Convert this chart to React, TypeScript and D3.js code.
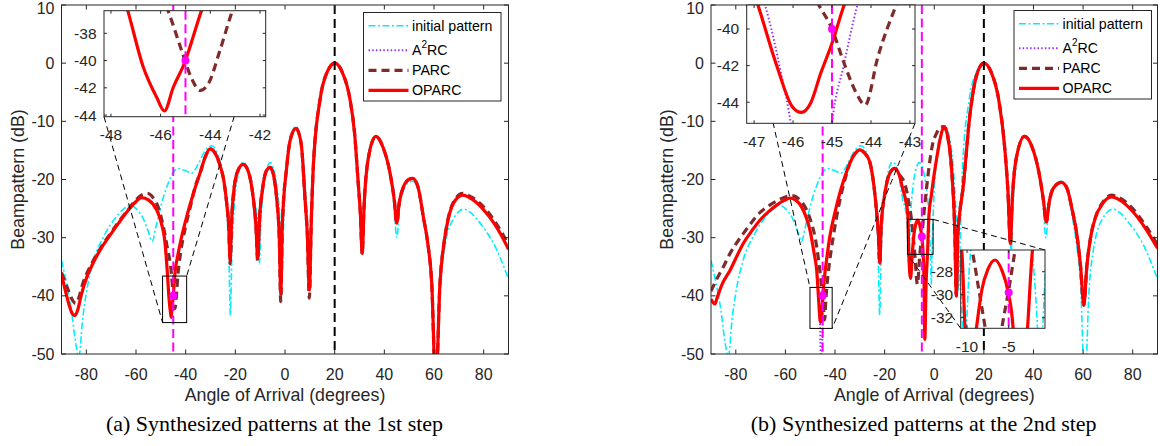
import React from 'react';
import * as d3 from 'd3';

type Pt = [number, number];

// ---------------- data ----------------
const angleTicks = [-80, -60, -40, -20, 0, 20, 40, 60, 80];
const dbTicks = [-50, -40, -30, -20, -10, 0, 10];
const seriesNames = ['initial pattern', 'A2RC', 'PARC', 'OPARC'];
const captionA = '(a) Synthesized patterns at the 1st step';
const captionB = '(b) Synthesized patterns at the 2nd step';
const xLabel = 'Angle of Arrival (degrees)';
const yLabel = 'Beampattern (dB)';
const mainBeam = 20;
const nullsA: Pt[] = [[-45, -40]];
const nullsB: Pt[] = [[-45, -40], [-5, -29.8]];

const initialPattern: Pt[] = [
  [-90, -33.9], [-88, -37.8], [-86, -42.5], [-84.5, -47.5], [-83, -50.5], [-81.5, -44], [-80, -39.5], [-77, -33.8],
  [-73, -29.8], [-69, -27], [-65, -25.1], [-62.4, -24.4], [-60, -25], [-57, -26.8], [-55, -29], [-53.5, -30.7],
  [-52, -28.2], [-50, -24.6], [-47, -20.6], [-45, -18.8], [-43, -18.1], [-40, -18.5], [-37.6, -18.9], [-35, -17.4],
  [-32.5, -15.3], [-29.5, -14.2], [-27, -15.8], [-25, -19.5], [-23.5, -25.5], [-22.6, -33], [-22, -43.3], [-21.4, -33],
  [-20.5, -25], [-19, -19.5], [-16.8, -17], [-14.5, -18.8], [-12.7, -23.5], [-11.5, -25.5], [-10.9, -28], [-10.3, -34.5],
  [-9.7, -27.5], [-8.5, -21], [-7.2, -18], [-6, -17.1], [-4.5, -18.3], [-3.2, -21.5], [-2.2, -26], [-1.6, -32],
  [-1.2, -38], [-0.8, -31], [-0.3, -24.5], [0.7, -17.5], [2, -13], [4.4, -10.9], [6.5, -13.5], [8, -20], [9, -28],
  [9.8, -39], [10.6, -28], [11.4, -18], [14, -6.5], [17, -1.5], [20, 0], [23, -1.5], [26.2, -6.3], [28, -11.5],
  [29.5, -19.5], [30.3, -25], [31, -32.5], [31.7, -25], [33, -17.5], [35, -13.3], [36.6, -12.5], [39, -14], [42, -18.8],
  [43.8, -24], [45, -30], [46.2, -24.5], [47.8, -21.8], [49.5, -20.6], [51.4, -20.3], [53.5, -21.5], [55.7, -26.5],
  [57.5, -31.5], [59, -38], [60.7, -56], [62.4, -39], [64, -32.5], [65.6, -29], [67.8, -26.8], [70, -25.5], [72, -25.1],
  [75, -25.8], [78, -27.2], [81, -28.9], [84, -31], [87, -33.8], [90, -37.1],
];

const oparc1: Pt[] = [
  [-90, -36.3], [-88.5, -39], [-87, -41.5], [-85.6, -43.1], [-84.6, -43.4], [-83.6, -42.6], [-82, -39.8], [-80, -37],
  [-77.2, -34.3], [-74, -31.8], [-70.5, -29.6], [-67, -27.5], [-63.7, -25.6], [-60.5, -24], [-57.7, -23.1], [-55, -23.5],
  [-51.7, -25.2], [-50, -27.2], [-48.3, -31], [-47.33, -36.3], [-46.7, -40.47], [-46.16, -42.7], [-45.85, -43.7],
  [-45.49, -41.96], [-45, -40], [-44.69, -38.25], [-44.35, -36.3], [-43, -32.7], [-41.6, -29.8], [-39.6, -26.4],
  [-36.9, -22.4], [-34.2, -18.9], [-32, -16], [-30.2, -14.75], [-28, -15.6], [-26, -17.8], [-24.8, -19.8], [-23.5, -24],
  [-22.6, -28.5], [-22.1, -34], [-21.5, -27], [-20.5, -21.5], [-19, -18.5], [-16.8, -17.4], [-14.5, -19], [-12.7, -23.5],
  [-11.7, -28], [-11, -33.6], [-10.3, -27], [-9, -21.5], [-7.5, -18.5], [-6, -17.9], [-4.5, -19.5], [-3.2, -24],
  [-2.3, -30], [-1.7, -39.6], [-1.1, -28], [0.7, -17.8], [2, -13.4], [4.4, -11.2], [6.5, -13.8], [8.1, -23.6], [9, -29.5],
  [9.8, -39], [10.6, -27], [11.4, -17.8], [14.1, -6.3], [17, -1.5], [20.1, 0], [23, -1.5], [26.2, -6.3], [28, -12],
  [29.5, -20.7], [30.3, -25.5], [31.1, -32.7], [31.8, -25], [33.5, -16.5], [36.6, -12.6], [39.5, -14.5], [42.3, -18.9],
  [44, -23.5], [45, -27.5], [46, -24], [47.5, -21.5], [49.5, -20.1], [51.4, -19.8], [53.5, -21.2], [55.7, -26.4],
  [57.5, -31], [59.1, -37.9], [60.7, -56], [62.4, -37.9], [64, -31], [65.1, -28.1], [67.8, -24.1], [71.6, -22.7],
  [75, -23.3], [78, -24.3], [81, -25.7], [84, -27.4], [87, -29.5], [90, -32],
];

const parc1: Pt[] = [
  [-90, -36], [-87, -39.3], [-85.5, -40.8], [-84.3, -41.3], [-83, -40.3], [-81.5, -38], [-78, -34.6], [-74, -31.6],
  [-70.5, -29.4], [-67, -27.3], [-63, -25.1], [-60, -23.5], [-57.5, -22.6], [-55.4, -22.4], [-53, -23.2], [-51, -24.8],
  [-49.3, -27.5], [-47.5, -31.5], [-45.69, -36.4], [-45.16, -39.24], [-44.75, -41.33], [-44.42, -42.2], [-44.08, -41.7],
  [-43.61, -39.24], [-43.12, -36.4], [-42, -32.5], [-40, -28], [-38, -24.5], [-36, -21], [-34.2, -18.9], [-32, -16],
  [-30.2, -14.75], [-28, -15.6], [-26, -17.8], [-24.8, -19.8], [-23.5, -24], [-22.6, -28.5], [-22.1, -34.5], [-21.5, -27],
  [-20.5, -21.5], [-19, -18.5], [-16.8, -17.4], [-14.5, -19], [-12.7, -23.5], [-11.7, -28], [-11, -34], [-10.3, -27],
  [-9, -21.5], [-7.5, -18.5], [-6, -17.9], [-4.5, -19.5], [-3.2, -24], [-2.3, -30], [-1.7, -41], [-1.1, -28], [0.7, -17.8],
  [2, -13.4], [4.4, -11.2], [6.5, -13.8], [8.1, -23.6], [9, -29.5], [9.8, -40.4], [10.6, -27], [11.4, -17.8], [14.1, -6.3],
  [17, -1.5], [20.1, 0], [23, -1.5], [26.2, -6.3], [28, -12], [29.5, -20.7], [30.3, -25.5], [31.1, -32.7], [31.8, -25],
  [33.5, -16.5], [36.6, -12.6], [39.5, -14.5], [42.3, -18.9], [44, -23.5], [45, -27.5], [46, -24], [47.5, -21.5],
  [49.5, -20.1], [51.4, -19.8], [53.5, -21.2], [55.7, -26.4], [57.5, -31], [59.1, -37.9], [60.7, -56], [62.4, -37.9],
  [64, -31], [65.1, -28], [67.8, -23.9], [71.6, -22.4], [75, -23], [78, -23.9], [81, -25.2], [84, -26.9], [87, -28.9],
  [90, -31.3],
];

const a2rc1: Pt[] = oparc1;

const oparc2: Pt[] = [
  [-90, -40.6], [-89.2, -41.1], [-88.4, -41.4], [-87.5, -40.3], [-85.5, -38], [-82.3, -35.6], [-79.5, -33.1], [-77, -31],
  [-73.5, -28.8], [-70.3, -27], [-67, -25.6], [-63.5, -24.4], [-60.5, -23.6], [-58.2, -23.2], [-56, -23.5], [-53.5, -24.7],
  [-51.8, -26.3], [-50.1, -28.7], [-48.5, -32.5], [-47.4, -35.6], [-46.9, -38.7], [-46.41, -42.06], [-46.02, -44.24],
  [-45.79, -44.55], [-45.55, -44.05], [-45.29, -42.42], [-45, -40.78], [-44.69, -38.7], [-44, -35.8], [-43, -32.5],
  [-42.1, -29.8], [-40, -25.6], [-38.1, -22.4], [-36, -19.5], [-34, -17.2], [-32, -15.6], [-30, -14.9], [-28, -15.5],
  [-26, -17], [-24.5, -20.5], [-23.3, -25.3], [-22.5, -29.5], [-21.95, -34.4], [-21.4, -28], [-19.9, -22.4], [-18, -19],
  [-15.9, -18.1], [-14, -19.4], [-12.6, -21.8], [-11.5, -23.6], [-10.64, -26.1], [-10.24, -32.9], [-9.55, -37],
  [-8.87, -32.9], [-8.2, -29.5], [-7.5, -27.8], [-6.63, -26.98], [-5.8, -27.9], [-5.07, -29.75], [-4.47, -32.9],
  [-4.1, -38], [-3.8, -47.5], [-3.3, -38], [-2.74, -32.9], [-2.14, -26.1], [-1.2, -22.8], [0, -19], [1, -16.3],
  [2.5, -12.8], [3.9, -10.9], [5.5, -12.8], [6.9, -17.8], [8.3, -29.3], [8.9, -40], [9.5, -29.5], [10.2, -26],
  [11.6, -21.5], [14.3, -9.2], [17, -2.2], [20, 0], [23, -1.6], [26, -6.3], [28.5, -15], [29.7, -22], [30.7, -31],
  [31.4, -24], [33, -16.5], [36.4, -12.6], [39.5, -14.5], [42.3, -19], [44, -23.5], [45.2, -27.3], [46.3, -24],
  [48, -21.5], [51.2, -20.5], [53.5, -21.5], [55.5, -25], [57.5, -29.5], [59, -35], [60.3, -41.6], [61.5, -35],
  [63, -30], [65, -26.5], [67.8, -24.2], [71.4, -23], [75, -23.6], [80, -25.5], [85, -28.3], [90, -31.8],
];

const parc2: Pt[] = [
  [-90, -39.2], [-88, -37.4], [-85, -35], [-82.3, -32.7], [-79.5, -30.8], [-77, -29.3], [-73.5, -27.3], [-70.3, -25.7],
  [-67, -24.6], [-63.5, -23.7], [-60, -23], [-56.9, -22.8], [-54, -23.6], [-51.5, -25.2], [-49.5, -27.5], [-48.1, -29.8],
  [-46.5, -34.3], [-45.34, -38.69], [-45, -40], [-44.69, -41.87], [-44.4, -43.4], [-44.15, -44.15], [-43.82, -41.5],
  [-43.35, -38.69], [-42.5, -35.2], [-40.7, -29.8], [-38.5, -24.5], [-36, -20], [-34, -17.2], [-32, -15.6], [-30, -14.9],
  [-28, -15.5], [-26, -17], [-24.5, -20.5], [-23.3, -25.3], [-22.5, -29.5], [-21.95, -34.4], [-21.4, -28], [-19.9, -22.4],
  [-18, -19], [-15.9, -18.1], [-14, -19.2], [-12, -20.6], [-10.9, -22.4], [-9.9, -25], [-9.42, -26.1], [-8.6, -29.5],
  [-7.82, -32.9], [-6.8, -38], [-5.82, -32.9], [-5, -29.6], [-4.22, -26.1], [-3.1, -21.5], [-2, -17.5], [-0.7, -14],
  [1, -12], [2.5, -11], [3.9, -10.9], [5.5, -12.8], [6.9, -17.8], [8.3, -29.3], [8.9, -40], [9.5, -29.5], [10.2, -26],
  [11.6, -21.5], [14.3, -9.2], [17, -2.2], [20, 0], [23, -1.6], [26, -6.3], [28.5, -15], [29.7, -22], [30.7, -31],
  [31.4, -24], [33, -16.5], [36.4, -12.6], [39.5, -14.5], [42.3, -19], [44, -23.5], [45.2, -27.3], [46.3, -24],
  [48, -21.5], [51.2, -20.5], [53.5, -21.5], [55.5, -25], [57.5, -29.5], [59, -35], [60.3, -41.6], [61.5, -35],
  [63, -30], [65, -26.5], [67.8, -24], [71.4, -22.7], [75, -23.2], [80, -25], [85, -27.8], [90, -31.2],
];

// A2RC at step 2 coincides with OPARC except around its deep null near -45.5 deg
const a2rc2Null: Pt[] = [
  [-48.5, -32.5], [-47.4, -35.7], [-46.72, -38.69], [-46.3, -42.5], [-46.06, -45.15], [-45.8, -50], [-45.5, -58],
  [-45.2, -50], [-45, -45.15], [-44.7, -42], [-44.35, -38.69], [-43.2, -33.5], [-42.1, -29.8],
];
const a2rc2: Pt[] = [
  ...oparc2.filter((d) => d[0] < -48.5 || d[0] > -42.1),
  ...a2rc2Null,
].sort((a, b) => a[0] - b[0]);

// ---------------- styling ----------------
const FONT = '"Liberation Sans", Arial, Helvetica, sans-serif';
const SERIF = '"Liberation Serif", "Times New Roman", serif';
const AX = '#262626';
const TOP = 5;
const BOTTOM = 354;

const styles = [
  { stroke: '#00eeff', w: 1.6, dash: '7,2.5,2,2.5' },
  { stroke: '#9933ff', w: 2, dash: '1.5,2.2' },
  { stroke: '#7f2b2b', w: 3.2, dash: '8,5' },
  { stroke: '#ff0000', w: 3.2, dash: undefined as string | undefined },
];

interface InsetCfg {
  id: string;
  box: [number, number, number, number];
  xd: [number, number];
  yd: [number, number];
  xt: number[];
  yt: number[];
  rect: [number, number, number, number]; // x0,x1,yLow,yHigh (data)
  links: [string, string][];
}

function corner(b: [number, number, number, number], c: string): [number, number] {
  const [x0, y0, x1, y1] = b;
  return [c[1] === 'l' ? x0 : x1, c[0] === 't' ? y0 : y1];
}

function Inset({ cfg, series, nulls }: { cfg: InsetCfg; series: Pt[][]; nulls: Pt[] }) {
  const [bx0, by0, bx1, by1] = cfg.box;
  const xs = d3.scaleLinear().domain(cfg.xd).range([bx0, bx1]);
  const ys = d3.scaleLinear().domain(cfg.yd).range([by1, by0]);
  const line = d3.line<Pt>().x((d) => xs(d[0])).y((d) => ys(d[1])).curve(d3.curveMonotoneX);
  const inNulls = nulls.filter((n) => n[0] > cfg.xd[0] && n[0] < cfg.xd[1]);
  return (
    <g>
      <defs>
        <clipPath id={cfg.id}>
          <rect x={bx0} y={by0} width={bx1 - bx0} height={by1 - by0} />
        </clipPath>
      </defs>
      <rect x={bx0} y={by0} width={bx1 - bx0} height={by1 - by0} fill="white" />
      <g clipPath={`url(#${cfg.id})`}>
        {series.map((s, i) => (
          <path key={i} d={line(s) || ''} fill="none" stroke={styles[i].stroke} strokeWidth={styles[i].w}
            strokeDasharray={styles[i].dash} strokeLinejoin="round" />
        ))}
        {inNulls.map((n, i) => (
          <line key={'m' + i} x1={xs(n[0])} x2={xs(n[0])} y1={by0} y2={by1} stroke="#ff00ff" strokeWidth={2}
            strokeDasharray="9,4.5" />
        ))}
        {inNulls.map((n, i) => (
          <circle key={'c' + i} cx={xs(n[0])} cy={ys(n[1])} r={4} fill="#ff00ff" />
        ))}
      </g>
      <rect x={bx0} y={by0} width={bx1 - bx0} height={by1 - by0} fill="none" stroke={AX} strokeWidth={1} />
      {cfg.xt.map((t) => (
        <g key={'xt' + t}>
          <line x1={xs(t)} x2={xs(t)} y1={by1} y2={by1 - 3} stroke={AX} />
          <line x1={xs(t)} x2={xs(t)} y1={by0} y2={by0 + 3} stroke={AX} />
          <text x={xs(t)} y={by1 + 23.5} textAnchor="middle" fontSize={15.5} fontFamily={FONT} fill={AX}>{t}</text>
        </g>
      ))}
      {cfg.yt.map((t) => (
        <g key={'yt' + t}>
          <line x1={bx0} x2={bx0 + 3} y1={ys(t)} y2={ys(t)} stroke={AX} />
          <line x1={bx1} x2={bx1 - 3} y1={ys(t)} y2={ys(t)} stroke={AX} />
          <text x={bx0 - 7.5} y={ys(t)} textAnchor="end" dominantBaseline="central" fontSize={15.5} fontFamily={FONT}
            fill={AX}>{t}</text>
        </g>
      ))}
    </g>
  );
}

interface PanelProps {
  id: string;
  left: number;
  right: number;
  series: Pt[][];
  nulls: Pt[];
  insets: InsetCfg[];
  legendLeft: number;
  legendTop: number;
  caption: string;
  captionX: number;
}

function Panel(p: PanelProps) {
  const x = d3.scaleLinear().domain([-90, 90]).range([p.left, p.right]);
  const y = d3.scaleLinear().domain([-50, 10]).range([BOTTOM, TOP]);
  const line = d3.line<Pt>().x((d) => x(d[0])).y((d) => y(d[1])).curve(d3.curveMonotoneX);
  const cx = (p.left + p.right) / 2;
  const legW = 137.5;
  const rowY = [13.2, 37.8, 57.8, 77.8];
  return (
    <g>
      <defs>
        <clipPath id={p.id + 'clip'}>
          <rect x={p.left} y={TOP} width={p.right - p.left} height={BOTTOM - TOP} />
        </clipPath>
      </defs>
      <rect x={p.left} y={TOP} width={p.right - p.left} height={BOTTOM - TOP} fill="white" />
      <g clipPath={`url(#${p.id}clip)`}>
        {p.series.map((s, i) => (
          <path key={i} d={line(s) || ''} fill="none" stroke={styles[i].stroke} strokeWidth={styles[i].w}
            strokeDasharray={styles[i].dash} strokeLinejoin="round" />
        ))}
        <line x1={x(mainBeam)} x2={x(mainBeam)} y1={TOP} y2={BOTTOM} stroke="#000" strokeWidth={2}
          strokeDasharray="9,5" />
        {p.nulls.map((n, i) => (
          <line key={'m' + i} x1={x(n[0])} x2={x(n[0])} y1={TOP} y2={BOTTOM} stroke="#ff00ff" strokeWidth={2}
            strokeDasharray="9,4.5" />
        ))}
        {p.nulls.map((n, i) => (
          <circle key={'c' + i} cx={x(n[0])} cy={y(n[1])} r={4} fill="#ff00ff" />
        ))}
      </g>
      {/* zoom rectangles and connector lines */}
      {p.insets.map((ins) => {
        const [rx0, rx1, ryl, ryh] = ins.rect;
        const rb: [number, number, number, number] = [x(rx0), y(ryh), x(rx1), y(ryl)];
        return (
          <g key={'r' + ins.id}>
            <rect x={rb[0]} y={rb[1]} width={rb[2] - rb[0]} height={rb[3] - rb[1]} fill="none" stroke="#000"
              strokeWidth={1} />
            {ins.links.map(([a, b], k) => {
              const [ax, ay] = corner(ins.box, a);
              const [bx, by] = corner(rb, b);
              return <line key={k} x1={ax} y1={ay} x2={bx} y2={by} stroke="#000" strokeWidth={1}
                strokeDasharray="6,4" />;
            })}
          </g>
        );
      })}
      {/* axes box */}
      <rect x={p.left} y={TOP} width={p.right - p.left} height={BOTTOM - TOP} fill="none" stroke={AX} strokeWidth={1} />
      {angleTicks.map((t) => (
        <g key={'x' + t}>
          <line x1={x(t)} x2={x(t)} y1={BOTTOM} y2={BOTTOM - 4.5} stroke={AX} />
          <line x1={x(t)} x2={x(t)} y1={TOP} y2={TOP + 4.5} stroke={AX} />
          <text x={x(t)} y={380} textAnchor="middle" fontSize={16} fontFamily={FONT} fill={AX}>{t}</text>
        </g>
      ))}
      {dbTicks.map((t) => (
        <g key={'y' + t}>
          <line x1={p.left} x2={p.left + 4.5} y1={y(t)} y2={y(t)} stroke={AX} />
          <line x1={p.right} x2={p.right - 4.5} y1={y(t)} y2={y(t)} stroke={AX} />
          <text x={p.left - 7} y={Math.max(y(t), 8.5)} textAnchor="end" dominantBaseline="central" fontSize={16}
            fontFamily={FONT} fill={AX}>{t}</text>
        </g>
      ))}
      {/* insets */}
      {p.insets.map((ins) => (
        <Inset key={ins.id} cfg={ins} series={p.series} nulls={p.nulls} />
      ))}
      {/* legend */}
      <g transform={`translate(${p.legendLeft},${p.legendTop})`}>
        <rect x={0} y={0} width={legW} height={88.5} fill="white" stroke={AX} strokeWidth={1} />
        {seriesNames.map((name, i) => (
          <g key={name}>
            <line x1={5} x2={45} y1={rowY[i]} y2={rowY[i]} stroke={styles[i].stroke} strokeWidth={styles[i].w}
              strokeDasharray={styles[i].dash} />
            <text x={48.5} y={rowY[i]} dominantBaseline="central" fontSize={14.2} fontFamily={FONT} fill="#000">
              {name === 'A2RC' ? (
                <>
                  A<tspan fontSize={10} dy={-6}>2</tspan><tspan dy={6}>RC</tspan>
                </>
              ) : name}
            </text>
          </g>
        ))}
      </g>
      {/* labels */}
      <text x={cx} y={401} textAnchor="middle" fontSize={17.8} fontFamily={FONT} fill={AX}>{xLabel}</text>
      <text transform={`translate(${p.left - 38},${(TOP + BOTTOM) / 2}) rotate(-90)`} textAnchor="middle"
        fontSize={17.8} fontFamily={FONT} fill={AX}>{yLabel}</text>
      <text x={p.captionX} y={431} textAnchor="middle" fontSize={22} fontFamily={SERIF} fill="#000">{p.caption}</text>
    </g>
  );
}

const insetsA: InsetCfg[] = [
  {
    id: 'insA',
    box: [104, 10.7, 265.7, 116.7],
    xd: [-48.28, -41.77],
    yd: [-44.12, -36.34],
    xt: [-48, -46, -44, -42],
    yt: [-44, -42, -40, -38],
    rect: [-49.3, -39.6, -44.6, -36.6],
    links: [['bl', 'bl'], ['tr', 'tr']],
  },
];

const insetsB: InsetCfg[] = [
  {
    id: 'insB1',
    box: [746.7, 5, 915, 123.3],
    xd: [-47.19, -42.87],
    yd: [-45.15, -38.69],
    xt: [-47, -46, -45, -44, -43],
    yt: [-44, -42, -40],
    rect: [-50.1, -41.15, -45.6, -38.55],
    links: [['tl', 'tl'], ['br', 'br']],
  },
  {
    id: 'insB2',
    box: [960.7, 250, 1045, 328.3],
    xd: [-10.76, -0.64],
    yd: [-32.92, -26.11],
    xt: [-10, -5],
    yt: [-32, -30, -28],
    rect: [-10.8, -0.47, -32.87, -26.85],
    links: [['tr', 'tr'], ['bl', 'bl']],
  },
];

export default function App() {
  return (
    <svg width={1160} height={446} viewBox="0 0 1160 446"
      style={{ position: 'absolute', left: 0, top: 0, background: 'white' }}>
      <rect x={0} y={0} width={1160} height={446} fill="white" />
      <Panel id="pa" left={61.5} right={508.5} series={[initialPattern, a2rc1, parc1, oparc1]} nulls={nullsA}
        insets={insetsA} legendLeft={363.5} legendTop={12.5} caption={captionA} captionX={274.5} />
      <Panel id="pb" left={711} right={1157.5} series={[initialPattern, a2rc2, parc2, oparc2]} nulls={nullsB}
        insets={insetsB} legendLeft={1014} legendTop={10.5} caption={captionB} captionX={923.7} />
    </svg>
  );
}
